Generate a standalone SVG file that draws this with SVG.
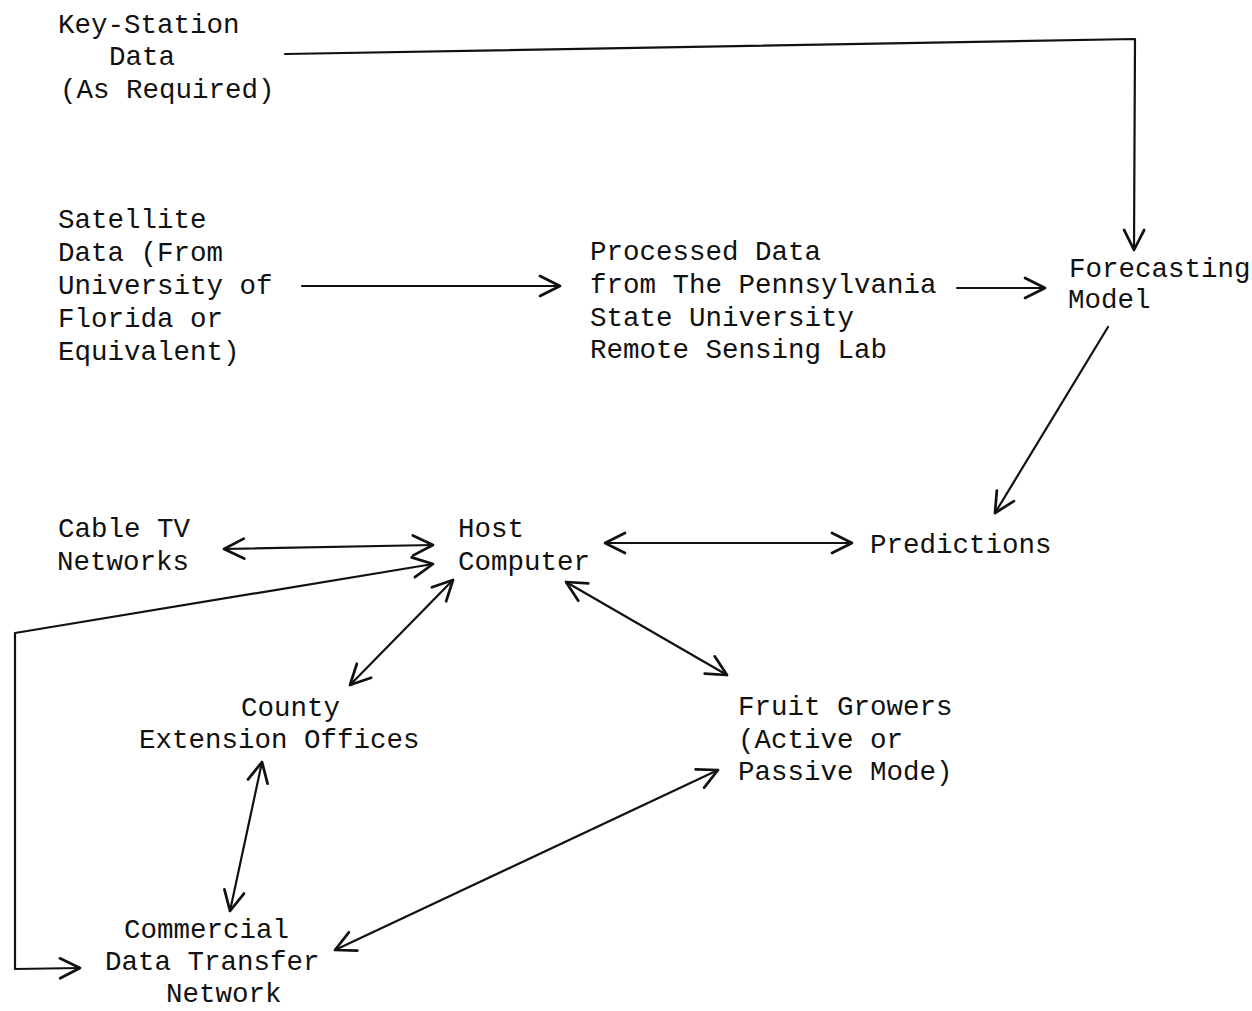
<svg xmlns="http://www.w3.org/2000/svg" width="1252" height="1011" viewBox="0 0 1252 1011">
  <style>
    .lbl { font-family: "Liberation Mono", "DejaVu Sans Mono", monospace; font-size: 27.5px; fill: #111; }
    .wire { fill: none; stroke: #111; stroke-width: 2.2; stroke-linecap: round; stroke-linejoin: round; }
  </style>
  <defs>
    <marker id="vhead" markerUnits="userSpaceOnUse" markerWidth="30" markerHeight="30" viewBox="-20 -12 24 24" refX="0" refY="0" orient="auto-start-reverse">
      <path d="M -16 -8 L 0 0 L -16 8" fill="none" stroke="#111" stroke-width="2.2" stroke-linecap="round" stroke-linejoin="round"/>
    </marker>
  </defs>
  <rect width="1252" height="1011" fill="#fff"/>

  <g id="connectors">
    <path class="wire" d="M 285 54 L 1135 39 L 1134 250" marker-end="url(#vhead)"/>
    <path class="wire" d="M 302 286 L 560 286" marker-end="url(#vhead)"/>
    <path class="wire" d="M 957 288 L 1045 288" marker-end="url(#vhead)"/>
    <path class="wire" d="M 1108 327 L 995 513" marker-end="url(#vhead)"/>
    <path class="wire" d="M 224 549 L 433 545" marker-start="url(#vhead)" marker-end="url(#vhead)"/>
    <path class="wire" d="M 80 968 L 15 969 L 15 633 L 433 564" marker-start="url(#vhead)" marker-end="url(#vhead)"/>
    <path class="wire" d="M 605 543 L 852 543" marker-start="url(#vhead)" marker-end="url(#vhead)"/>
    <path class="wire" d="M 453 580 L 350 685" marker-start="url(#vhead)" marker-end="url(#vhead)"/>
    <path class="wire" d="M 566 582 L 727 675" marker-start="url(#vhead)" marker-end="url(#vhead)"/>
    <path class="wire" d="M 262 762 L 230 911" marker-start="url(#vhead)" marker-end="url(#vhead)"/>
    <path class="wire" d="M 718 770 L 335 950" marker-start="url(#vhead)" marker-end="url(#vhead)"/>
  </g>

  <g id="key-station">
    <text class="lbl" x="58" y="33">Key-Station</text>
    <text class="lbl" x="109" y="65">Data</text>
    <text class="lbl" x="60" y="98">(As Required)</text>
  </g>
  <g id="satellite">
    <text class="lbl" x="58" y="228">Satellite</text>
    <text class="lbl" x="58" y="261">Data (From</text>
    <text class="lbl" x="58" y="294">University of</text>
    <text class="lbl" x="58" y="327">Florida or</text>
    <text class="lbl" x="58" y="360">Equivalent)</text>
  </g>
  <g id="processed">
    <text class="lbl" x="590" y="260">Processed Data</text>
    <text class="lbl" x="590" y="293">from The Pennsylvania</text>
    <text class="lbl" x="590" y="326">State University</text>
    <text class="lbl" x="590" y="358">Remote Sensing Lab</text>
  </g>
  <g id="forecasting">
    <text class="lbl" x="1069" y="277">Forecasting</text>
    <text class="lbl" x="1068" y="308">Model</text>
  </g>
  <g id="cable-tv">
    <text class="lbl" x="58" y="537">Cable TV</text>
    <text class="lbl" x="57" y="570">Networks</text>
  </g>
  <g id="host">
    <text class="lbl" x="458" y="537">Host</text>
    <text class="lbl" x="458" y="570">Computer</text>
  </g>
  <g id="predictions">
    <text class="lbl" x="870" y="553">Predictions</text>
  </g>
  <g id="county">
    <text class="lbl" x="241" y="716">County</text>
    <text class="lbl" x="139" y="748">Extension Offices</text>
  </g>
  <g id="fruit-growers">
    <text class="lbl" x="738" y="715">Fruit Growers</text>
    <text class="lbl" x="738" y="748">(Active or</text>
    <text class="lbl" x="738" y="780">Passive Mode)</text>
  </g>
  <g id="commercial">
    <text class="lbl" x="124" y="938">Commercial</text>
    <text class="lbl" x="105" y="970">Data Transfer</text>
    <text class="lbl" x="166" y="1002">Network</text>
  </g>
</svg>
